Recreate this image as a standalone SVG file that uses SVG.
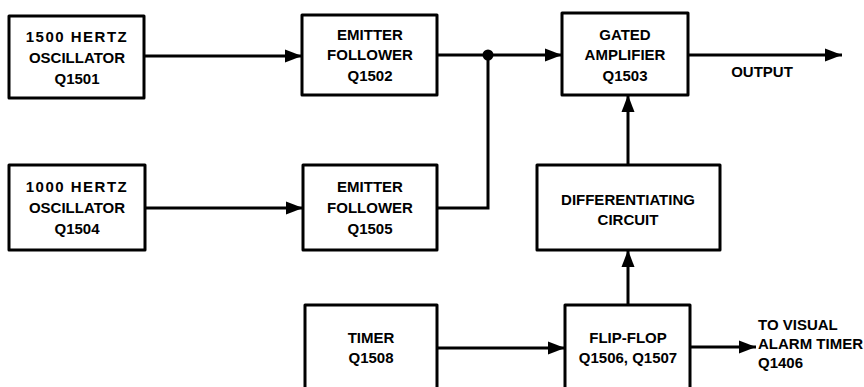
<svg xmlns="http://www.w3.org/2000/svg" width="864" height="387" viewBox="0 0 864 387">
<style>
.box{fill:#fff;stroke:#000;stroke-width:3;stroke-linejoin:round}
.t{font-family:"Liberation Sans",Arial,sans-serif;font-weight:bold;font-size:15px;text-anchor:middle;fill:#000}
.l{font-family:"Liberation Sans",Arial,sans-serif;font-weight:bold;font-size:15px;fill:#000}
.w{letter-spacing:1.5px}
.c{fill:none;stroke:#000;stroke-width:3}
</style>
<defs>
<marker id="ah" markerUnits="userSpaceOnUse" markerWidth="18" markerHeight="16" refX="17" refY="8" orient="auto">
<path d="M0,1.5 L17,8 L0,14.5 Z" fill="#000"/>
</marker>
</defs>
<rect width="864" height="387" fill="#fff"/>
<g id="connectors">
<line class="c" x1="144" y1="56" x2="302" y2="56" marker-end="url(#ah)"/>
<line class="c" x1="437" y1="55" x2="562" y2="55" marker-end="url(#ah)"/>
<polyline class="c" points="437,208 488,208 488,55"/>
<circle cx="488" cy="55" r="5.5" fill="#000"/>
<line class="c" x1="145" y1="208" x2="303" y2="208" marker-end="url(#ah)"/>
<line class="c" x1="688" y1="55" x2="842" y2="55" marker-end="url(#ah)"/>
<line class="c" x1="628" y1="165" x2="628" y2="95" marker-end="url(#ah)"/>
<line class="c" x1="628" y1="305" x2="628" y2="250" marker-end="url(#ah)"/>
<line class="c" x1="437" y1="348" x2="565" y2="348" marker-end="url(#ah)"/>
<line class="c" x1="690" y1="347" x2="756" y2="347" marker-end="url(#ah)"/>
</g>
<g id="osc1500">
<rect class="box" x="9" y="16" width="135" height="82"/>
<text class="t w" x="77" y="42">1500 HERTZ</text>
<text class="t" x="77" y="63">OSCILLATOR</text>
<text class="t" x="77" y="84">Q1501</text>
</g>
<g id="ef1502">
<rect class="box" x="302" y="15" width="135" height="80"/>
<text class="t" x="370" y="40">EMITTER</text>
<text class="t" x="370" y="60">FOLLOWER</text>
<text class="t" x="370" y="81">Q1502</text>
</g>
<g id="ga1503">
<rect class="box" x="562" y="13" width="126" height="82"/>
<text class="t" x="625" y="40">GATED</text>
<text class="t" x="625" y="60">AMPLIFIER</text>
<text class="t" x="625" y="81">Q1503</text>
</g>
<g id="output">
<text class="t" x="762" y="77">OUTPUT</text>
</g>
<g id="osc1000">
<rect class="box" x="9" y="165" width="136" height="85"/>
<text class="t w" x="77" y="192">1000 HERTZ</text>
<text class="t" x="77" y="213">OSCILLATOR</text>
<text class="t" x="77" y="234">Q1504</text>
</g>
<g id="ef1505">
<rect class="box" x="303" y="165" width="134" height="85"/>
<text class="t" x="370" y="192">EMITTER</text>
<text class="t" x="370" y="213">FOLLOWER</text>
<text class="t" x="370" y="234">Q1505</text>
</g>
<g id="diff">
<rect class="box" x="537" y="165" width="183" height="85"/>
<text class="t" x="628" y="205">DIFFERENTIATING</text>
<text class="t" x="628" y="225">CIRCUIT</text>
</g>
<g id="timer">
<rect class="box" x="305" y="305" width="132" height="95"/>
<text class="t" x="371" y="343">TIMER</text>
<text class="t" x="371" y="363">Q1508</text>
</g>
<g id="flipflop">
<rect class="box" x="565" y="305" width="125" height="95"/>
<text class="t" x="628" y="343">FLIP-FLOP</text>
<text class="t" x="628" y="363">Q1506, Q1507</text>
</g>
<g id="visual">
<text class="l" x="758" y="330">TO VISUAL</text>
<text class="l" x="758" y="349">ALARM TIMER</text>
<text class="l" x="758" y="368">Q1406</text>
</g>
</svg>
